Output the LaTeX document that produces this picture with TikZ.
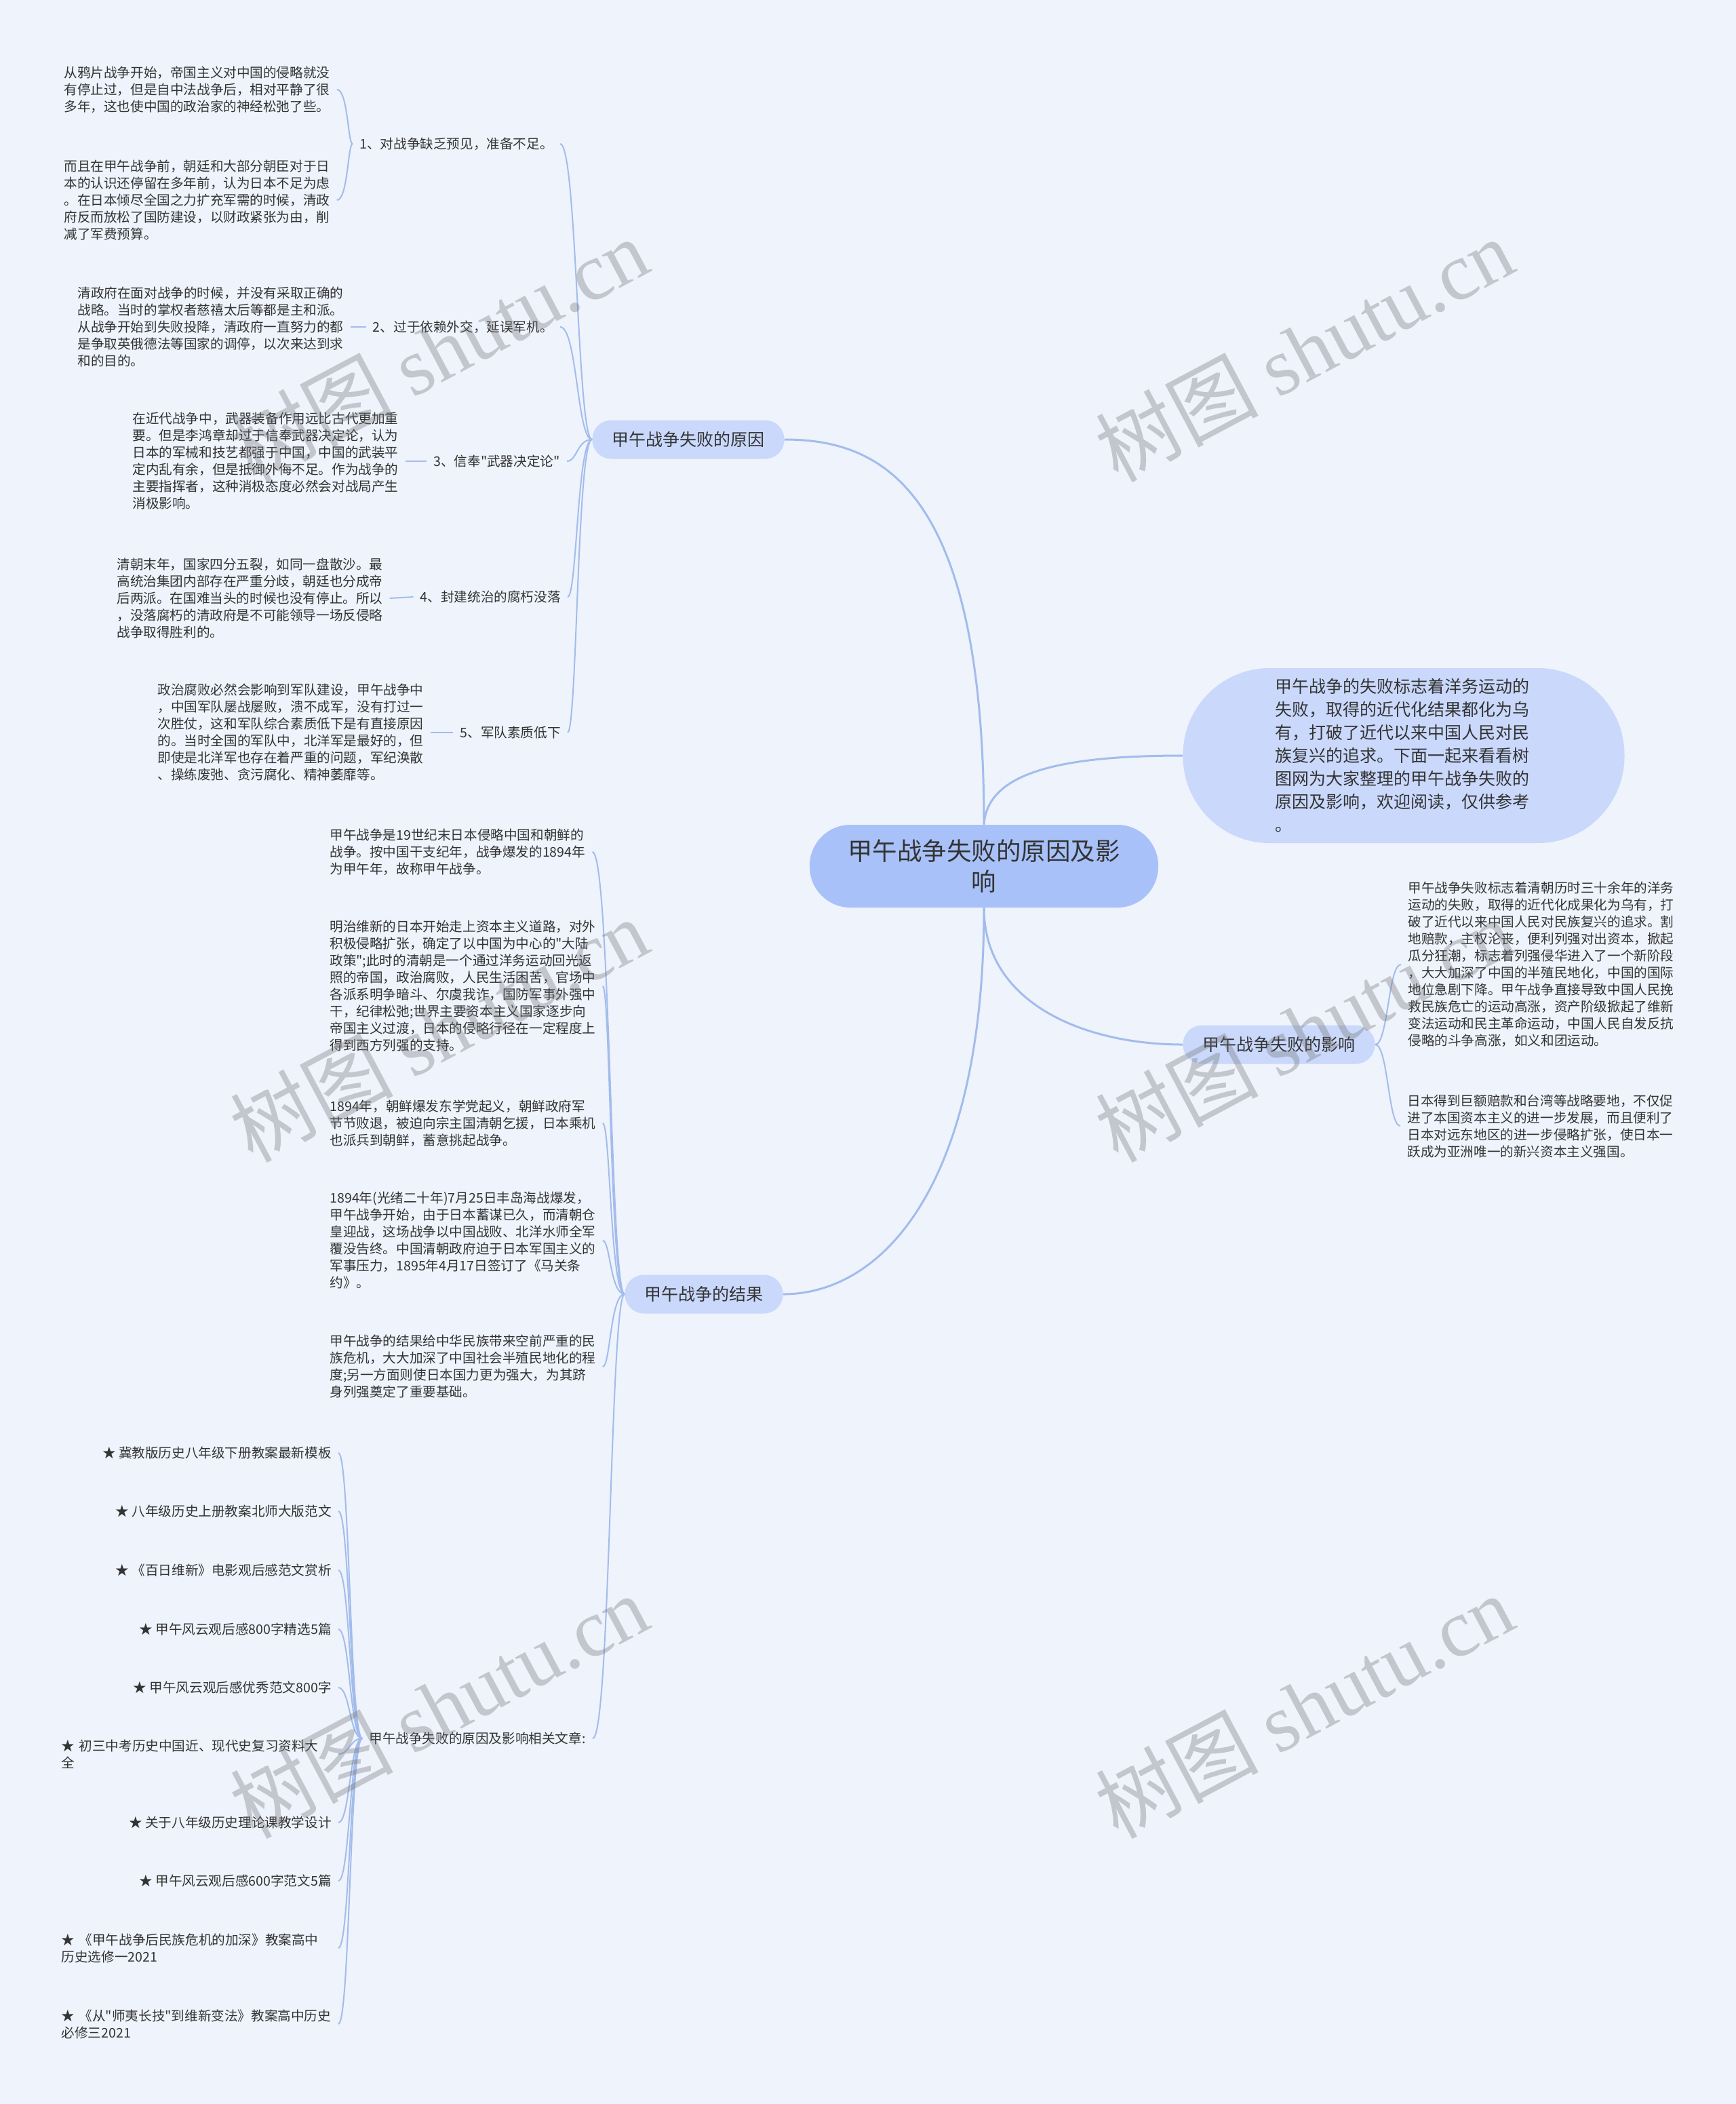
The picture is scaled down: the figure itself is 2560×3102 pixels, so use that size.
\documentclass[tikz,border=0pt]{standalone}
\usepackage{fontspec}
\setmainfont{Noto Sans CJK SC}[Ligatures=TeXOff]
\newfontfamily\wmlatin{Liberation Serif}
\definecolor{bgblue}{HTML}{EEF3FC}
\definecolor{rootblue}{HTML}{A8C1F8}
\definecolor{catblue}{HTML}{C9D8FB}
\definecolor{linkblue}{HTML}{A3BCEC}
\definecolor{txt}{HTML}{333333}

\begin{document}
\begin{tikzpicture}[x=0.5pt, y=-0.5pt,
    every node/.append style={text=txt},
    root/.style={fill=rootblue, rounded corners=30pt, minimum width=257pt, minimum height=61pt,
      align=center, font=\fontsize{18.25pt}{22.5pt}\selectfont},
    blurb/.style={fill=catblue, rounded corners=64pt, minimum width=325.5pt, minimum height=129pt,
      text width=190pt, align=left, font=\fontsize{12.5pt}{17pt}\selectfont},
    cat/.style={fill=catblue, rounded corners=14pt, minimum height=28.5pt, inner xsep=14.5pt,
      font=\fontsize{12.5pt}{15pt}\selectfont},
    leaf/.style={align=left, inner xsep=5pt, inner ysep=0pt, font=\fontsize{9.8pt}{12.5pt}\selectfont},
    wide/.style={text width=199pt},
    link/.style={draw=linkblue, line width=1pt},
    mainlink/.style={draw=linkblue, line width=1.5pt},
    wmark/.style={rotate=28, text=black!55, text opacity=0.35, font=\fontsize{60pt}{60pt}\selectfont}
  ]
  % \draw[help lines] (0,0) grid[step=100] (2560,3102);
  \useasboundingbox (0,0) rectangle (2560,3102);
  \fill[bgblue] (0,0) rectangle (2560,3102);

  \node[root] (root) at (1451,1277) {甲午战争失败的原因及影\\响};
  \node[blurb] (intro) at (2070,1114) {甲午战争的失败标志着洋务运动的\\
    失败，取得的近代化结果都化为乌\\
    有，打破了近代以来中国人民对民\\
    族复兴的追求。下面一起来看看树\\
    图网为大家整理的甲午战争失败的\\
    原因及影响，欢迎阅读，仅供参考\\
    。};
  \node[cat] (cause) at (1015,648) {甲午战争失败的原因};
  \node[cat] (effect) at (1886,1540) {甲午战争失败的影响};
  \node[cat] (result) at (1038,1908) {甲午战争的结果};

  % causes
  \node[leaf, anchor=east] (c1) at (826,212) {1、对战争缺乏预见，准备不足。};
  \node[leaf, anchor=east] (c2) at (826,482) {2、过于依赖外交，延误军机。};
  \node[leaf, anchor=east] (c3) at (836,680) {3、信奉"武器决定论"};
  \node[leaf, anchor=east] (c4) at (837,880) {4、封建统治的腐朽没落};
  \node[leaf, anchor=east] (c5) at (837,1080) {5、军队素质低下};

  \node[leaf, anchor=west] (b1a) at (84,132) {从鸦片战争开始，帝国主义对中国的侵略就没\\
    有停止过，但是自中法战争后，相对平静了很\\
    多年，这也使中国的政治家的神经松弛了些。};
  \node[leaf, anchor=west] (b1b) at (84,295) {而且在甲午战争前，朝廷和大部分朝臣对于日\\
    本的认识还停留在多年前，认为日本不足为虑\\
    。在日本倾尽全国之力扩充军需的时候，清政\\
    府反而放松了国防建设，以财政紧张为由，削\\
    减了军费预算。};
  \node[leaf, anchor=west] (b2) at (104,482) {清政府在面对战争的时候，并没有采取正确的\\
    战略。当时的掌权者慈禧太后等都是主和派。\\
    从战争开始到失败投降，清政府一直努力的都\\
    是争取英俄德法等国家的调停，以次来达到求\\
    和的目的。};
  \node[leaf, anchor=west] (b3) at (185,680) {在近代战争中，武器装备作用远比古代更加重\\
    要。但是李鸿章却过于信奉武器决定论，认为\\
    日本的军械和技艺都强于中国，中国的武装平\\
    定内乱有余，但是抵御外侮不足。作为战争的\\
    主要指挥者，这种消极态度必然会对战局产生\\
    消极影响。};
  \node[leaf, anchor=west] (b4) at (162,882) {清朝末年，国家四分五裂，如同一盘散沙。最\\
    高统治集团内部存在严重分歧，朝廷也分成帝\\
    后两派。在国难当头的时候也没有停止。所以\\
    ，没落腐朽的清政府是不可能领导一场反侵略\\
    战争取得胜利的。};
  \node[leaf, anchor=west] (b5) at (222,1080) {政治腐败必然会影响到军队建设，甲午战争中\\
    ，中国军队屡战屡败，溃不成军，没有打过一\\
    次胜仗，这和军队综合素质低下是有直接原因\\
    的。当时全国的军队中，北洋军是最好的，但\\
    即使是北洋军也存在着严重的问题，军纪涣散\\
    、操练废弛、贪污腐化、精神萎靡等。};

  % results
  \node[leaf, anchor=west] (r1) at (476,1256) {甲午战争是19世纪末日本侵略中国和朝鲜的\\
    战争。按中国干支纪年，战争爆发的1894年\\
    为甲午年，故称甲午战争。};
  \node[leaf, anchor=west] (r2) at (476,1454) {明治维新的日本开始走上资本主义道路，对外\\
    积极侵略扩张，确定了以中国为中心的"大陆\\
    政策";此时的清朝是一个通过洋务运动回光返\\
    照的帝国，政治腐败，人民生活困苦，官场中\\
    各派系明争暗斗、尔虞我诈，国防军事外强中\\
    干，纪律松弛;世界主要资本主义国家逐步向\\
    帝国主义过渡，日本的侵略行径在一定程度上\\
    得到西方列强的支持。};
  \node[leaf, anchor=west] (r3) at (476,1656) {1894年，朝鲜爆发东学党起义，朝鲜政府军\\
    节节败退，被迫向宗主国清朝乞援，日本乘机\\
    也派兵到朝鲜，蓄意挑起战争。};
  \node[leaf, anchor=west] (r4) at (476,1829) {1894年(光绪二十年)7月25日丰岛海战爆发，\\
    甲午战争开始，由于日本蓄谋已久，而清朝仓\\
    皇迎战，这场战争以中国战败、北洋水师全军\\
    覆没告终。中国清朝政府迫于日本军国主义的\\
    军事压力，1895年4月17日签订了《马关条\\
    约》。};
  \node[leaf, anchor=west] (r5) at (476,2015) {甲午战争的结果给中华民族带来空前严重的民\\
    族危机，大大加深了中国社会半殖民地化的程\\
    度;另一方面则使日本国力更为强大，为其跻\\
    身列强奠定了重要基础。};
  \node[leaf, anchor=east] (rel) at (874,2563) {甲午战争失败的原因及影响相关文章:};

  % related articles
  \node[leaf, anchor=east] (s1) at (499,2142) {★ 冀教版历史八年级下册教案最新模板};
  \node[leaf, anchor=east] (s2) at (499,2228) {★ 八年级历史上册教案北师大版范文};
  \node[leaf, anchor=east] (s3) at (499,2315) {★ 《百日维新》电影观后感范文赏析};
  \node[leaf, anchor=east] (s4) at (499,2402) {★ 甲午风云观后感800字精选5篇};
  \node[leaf, anchor=east] (s5) at (499,2488) {★ 甲午风云观后感优秀范文800字};
  \node[leaf, wide, anchor=east] (s6) at (499,2586) {★ 初三中考历史中国近、现代史复习资料大\\全};
  \node[leaf, anchor=east] (s7) at (499,2687) {★ 关于八年级历史理论课教学设计};
  \node[leaf, anchor=east] (s8) at (499,2773) {★ 甲午风云观后感600字范文5篇};
  \node[leaf, wide, anchor=east] (s9) at (499,2872) {★ 《甲午战争后民族危机的加深》教案高中\\历史选修一2021};
  \node[leaf, wide, anchor=east] (s10) at (499,2984) {★ 《从"师夷长技"到维新变法》教案高中历史\\必修三2021};

  % effects
  \node[leaf, anchor=west] (i1) at (2066,1422) {甲午战争失败标志着清朝历时三十余年的洋务\\
    运动的失败，取得的近代化成果化为乌有，打\\
    破了近代以来中国人民对民族复兴的追求。割\\
    地赔款，主权沦丧，便利列强对出资本，掀起\\
    瓜分狂潮，标志着列强侵华进入了一个新阶段\\
    ，大大加深了中国的半殖民地化，中国的国际\\
    地位急剧下降。甲午战争直接导致中国人民挽\\
    救民族危亡的运动高涨，资产阶级掀起了维新\\
    变法运动和民主革命运动，中国人民自发反抗\\
    侵略的斗争高涨，如义和团运动。};
  \node[leaf, anchor=west] (i2) at (2065,1660) {日本得到巨额赔款和台湾等战略要地，不仅促\\
    进了本国资本主义的进一步发展，而且便利了\\
    日本对远东地区的进一步侵略扩张，使日本一\\
    跃成为亚洲唯一的新兴资本主义强国。};

  % spines
  \coordinate (cspine) at (851,0);
  \coordinate (bspine) at (513,0);
  \coordinate (rspine) at (900,0);
  \coordinate (sspine) at (516,0);
  \coordinate (espine) at (2047,0);

  \draw[mainlink] (root.north) .. controls (1451,720) and (1300,648) .. (cause.east);
  \draw[mainlink] (root.north) .. controls (1456,1140) and (1560,1114) .. (intro.west);
  \draw[mainlink] (root.south) .. controls (1451,1480) and (1600,1540) .. (effect.west);
  \draw[mainlink] (root.south) .. controls (1451,1750) and (1300,1908) .. (result.east);

  \foreach \n in {c1,c2,c3,c4,c5}
    \draw[link] (cause.west) .. controls (cspine |- cause.west) and (cspine |- \n.east) .. (\n.east);
  \foreach \n in {b1a,b1b}
    \draw[link] (c1.west) .. controls (bspine |- c1.west) and (bspine |- \n.east) .. (\n.east);
  \draw[link] (c2.west) -- (b2.east);
  \draw[link] (c3.west) -- (b3.east);
  \draw[link] (c4.west) -- (b4.east);
  \draw[link] (c5.west) -- (b5.east);
  \foreach \n in {r1,r2,r3,r4,r5,rel}
    \draw[link] (result.west) .. controls (rspine |- result.west) and (rspine |- \n.east) .. (\n.east);
  \foreach \n in {s1,s2,s3,s4,s5,s6,s7,s8,s9,s10}
    \draw[link] (rel.west) .. controls (sspine |- rel.west) and (sspine |- \n.east) .. (\n.east);
  \foreach \n in {i1,i2}
    \draw[link] (effect.east) .. controls (espine |- effect.east) and (espine |- \n.west) .. (\n.west);

  % watermarks
  \foreach \wx/\wy in {647/515, 1923/515, 647/1518, 1923/1518, 647/2515, 1923/2515}
    \node[wmark] (wm-\wx-\wy) at (\wx,\wy) {树图 {\wmlatin shutu.cn}};
\end{tikzpicture}
\end{document}
